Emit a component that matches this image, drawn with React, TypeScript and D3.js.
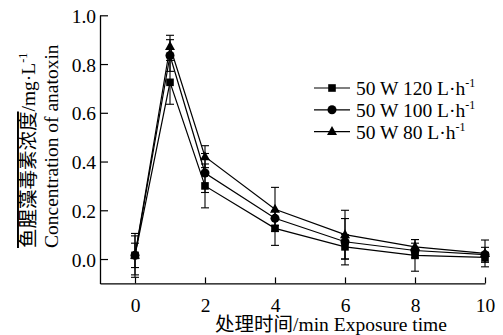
import {useEffect, useRef} from "react";
import * as d3 from "d3";

const times = [0, 1, 2, 4, 6, 8, 10];
const labels = ["50 W 120 L·h", "50 W 100 L·h", "50 W 80 L·h"];
const symbols = ["square", "circle", "triangle"];
const val120 = [0.015, 0.725, 0.30, 0.126, 0.05, 0.015, 0.007];
const err120 = [0.08, 0.09, 0.09, 0.07, 0.05, 0.065, 0.02];
const val100 = [0.015, 0.835, 0.353, 0.167, 0.071, 0.035, 0.018];
const err100 = [0.05, 0.065, 0.08, 0.03, 0.095, 0.03, 0.03];
const val80 = [0.015, 0.872, 0.42, 0.204, 0.10, 0.05, 0.023];
const err80 = [0.09, 0.046, 0.045, 0.09, 0.1, 0.03, 0.055];
const xTicks = [0, 2, 4, 6, 8, 10];
const yTicks = [0, 0.2, 0.4, 0.6, 0.8, 1.0];

const FONT = "'Liberation Serif', 'Times New Roman', serif";
const CJK = "'Liberation Serif', 'Noto Sans CJK SC', serif";
const FS = "19.5px";

const App = () => {
	const svgRef = useRef<SVGSVGElement>(null);

	useEffect(() => {
		const svg = d3.select(svgRef.current);
		svg.selectAll("*").remove();

		const x = d3.scaleLinear().domain([-1, 10]).range([100, 485]);
		const y = d3.scaleLinear().domain([-0.1, 1.0]).range([283.4, 15.3]);

		const series = [
			{vals: val120, errs: err120},
			{vals: val100, errs: err100},
			{vals: val80, errs: err80},
		];

		// axes, ticks point inward
		const xAxis = svg.append("g")
			.attr("transform", `translate(0,${y(-0.1)})`)
			.call(d3.axisBottom(x).tickValues(xTicks).tickSizeInner(-6).tickSizeOuter(0).tickPadding(15).tickFormat(d3.format("d")));
		const yAxis = svg.append("g")
			.attr("transform", `translate(${x(-1)},0)`)
			.call(d3.axisLeft(y).tickValues(yTicks).tickSizeInner(-8).tickSizeOuter(0).tickPadding(4).tickFormat(d3.format(".1f")));
		[xAxis, yAxis].forEach((a) => {
			a.select(".domain").attr("stroke", "#000").attr("stroke-width", 1.3);
			a.selectAll(".tick line").attr("stroke", "#000").attr("stroke-width", 1.2);
			a.selectAll(".tick text")
				.attr("fill", "#000")
				.style("font-family", FONT)
				.style("font-size", FS);
		});
		yAxis.selectAll(".tick text").attr("dy", "0.36em");

		const line = d3.line<number>()
			.x((_, i) => x(times[i]))
			.y((d) => y(d));

		const drawSymbol = (g: any, type: string, cx: number, cy: number) => {
			if (type === "square") {
				g.append("rect").attr("x", cx - 3.8).attr("y", cy - 3.8).attr("width", 7.6).attr("height", 7.6).attr("fill", "#000");
			} else if (type === "circle") {
				g.append("circle").attr("cx", cx).attr("cy", cy).attr("r", 4.5).attr("fill", "#000");
			} else {
				g.append("path")
					.attr("d", `M${cx},${cy - 5.5}L${cx + 5},${cy + 3.5}L${cx - 5},${cy + 3.5}Z`)
					.attr("fill", "#000");
			}
		};

		series.forEach((s, si) => {
			const g = svg.append("g");
			s.vals.forEach((v, i) => {
				const cx = x(times[i]);
				const top = y(v + s.errs[i]);
				const bot = y(v - s.errs[i]);
				g.append("line").attr("x1", cx).attr("x2", cx).attr("y1", top).attr("y2", bot).attr("stroke", "#000").attr("stroke-width", 1.1);
				[top, bot].forEach((yy) => {
					g.append("line").attr("x1", cx - 4).attr("x2", cx + 4).attr("y1", yy).attr("y2", yy).attr("stroke", "#000").attr("stroke-width", 1.1);
				});
			});
			g.append("path").attr("d", line(s.vals)).attr("fill", "none").attr("stroke", "#000").attr("stroke-width", 1.2);
			s.vals.forEach((v, i) => drawSymbol(g, symbols[si], x(times[i]), y(v)));
		});

		// legend
		labels.forEach((lab, i) => {
			const ly = 88 + i * 21.8;
			const g = svg.append("g");
			g.append("line").attr("x1", 314).attr("x2", 350).attr("y1", ly).attr("y2", ly).attr("stroke", "#000").attr("stroke-width", 1.2);
			drawSymbol(g, symbols[i], 332, ly);
			const t = g.append("text")
				.attr("x", 356).attr("y", ly + 7)
				.style("font-family", FONT).style("font-size", FS).attr("fill", "#000");
			t.append("tspan").text(lab);
			t.append("tspan").attr("dy", -8).style("font-size", "12px").text("-1");
		});

		// x title
		svg.append("text")
			.attr("x", 331).attr("y", 331)
			.attr("text-anchor", "middle")
			.style("font-family", CJK).style("font-size", FS)
			.attr("fill", "#000")
			.text("处理时间/min Exposure time");

		// y title, two lines
		const yt = svg.append("text")
			.attr("transform", "translate(35,248) rotate(-90)")
			.style("font-family", CJK).style("font-size", FS)
			.attr("fill", "#000");
		yt.append("tspan").style("text-decoration", "overline").text("鱼腥藻毒素浓度");
		yt.append("tspan").text("/mg·L");
		yt.append("tspan").attr("dy", -8).style("font-size", "12px").text("-1");
		svg.append("text")
			.attr("transform", "translate(58,248) rotate(-90)")
			.style("font-family", FONT).style("font-size", FS)
			.attr("fill", "#000")
			.text("Concentration of anatoxin");
	}, []);

	return (
		<div style={{position: "absolute", left: 0, top: 0, width: 503, height: 335, overflow: "hidden", background: "#fff"}}>
			<svg ref={svgRef} width={503} height={335} style={{display: "block"}}></svg>
		</div>
	);
};

export default App;
